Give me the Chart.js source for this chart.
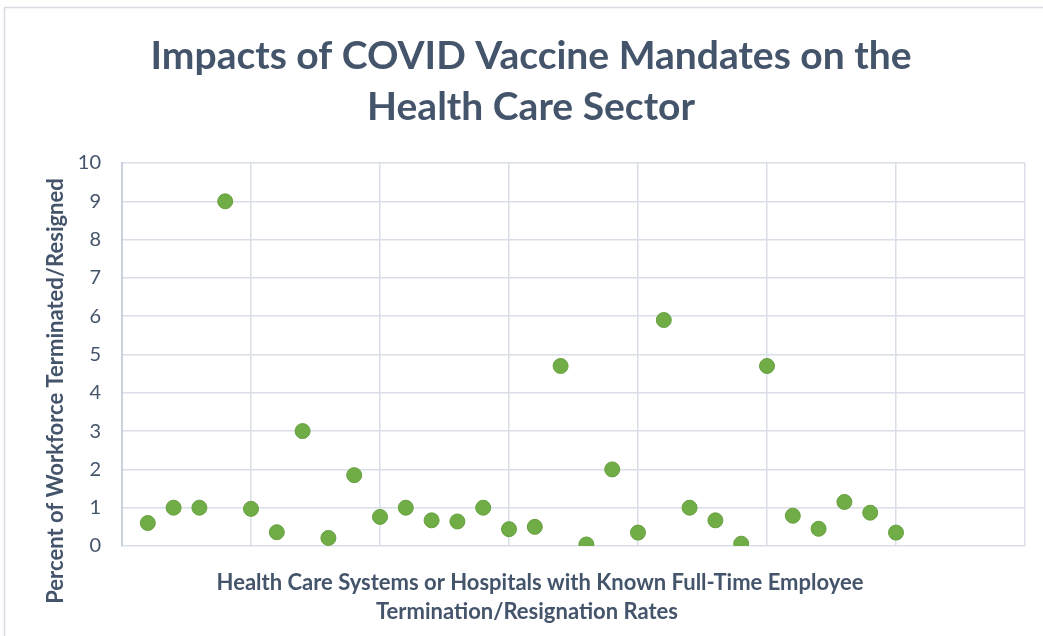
<!DOCTYPE html>
<html>
<head>
<meta charset="utf-8">
<script src="https://cdn.jsdelivr.net/npm/chart.js@4/dist/chart.umd.min.js"></script>
<style>
  html, body { margin: 0; padding: 0; background: #ffffff; }
  #wrap { width: 1043px; height: 636px; position: relative; }
</style>
</head>
<body>
<div id="wrap"><canvas id="c" width="1043" height="636"></canvas></div>
<script>
// ---- Data ----
const chartTitle = ['Impacts of COVID Vaccine Mandates on the', 'Health Care Sector'];
const xAxisTitle = ['Health Care Systems or Hospitals with Known Full-Time Employee', 'Termination/Resignation Rates'];
const yAxisTitle = 'Percent of Workforce Terminated/Resigned';
const systemIndex = [1, 2, 3, 4, 5, 6, 7, 8, 9, 10, 11, 12, 13, 14, 15, 16, 17, 18, 19, 20, 21, 22, 23, 24, 25, 26, 27, 28, 29, 30];
const percentTerminated = [0.6, 1.0, 1.0, 9.0, 0.97, 0.36, 3.0, 0.21, 1.85, 0.76, 1.0, 0.67, 0.64, 1.0, 0.44, 0.5, 4.7, 0.04, 2.0, 0.35, 5.9, 1.0, 0.67, 0.06, 4.7, 0.79, 0.45, 1.15, 0.87, 0.35];
const yTicks = [0, 1, 2, 3, 4, 5, 6, 7, 8, 9, 10];

const points = systemIndex.map((x, i) => ({ x: x, y: percentTerminated[i] }));

const textColor = '#44546A';
const gridColor = '#D9DEE8';

const titlesPlugin = {
  id: 'customTitles',
  beforeDraw(chart) {
    const ctx = chart.ctx;
    ctx.save();
    ctx.fillStyle = '#ffffff';
    ctx.fillRect(0, 0, chart.width, chart.height);
    // outer frame (left + top)
    ctx.strokeStyle = '#D9DCE3';
    ctx.lineWidth = 1.5;
    ctx.beginPath();
    ctx.moveTo(4.5, 636);
    ctx.lineTo(4.5, 7.5);
    ctx.lineTo(1043, 7.5);
    ctx.stroke();
    ctx.restore();
  },
  afterDraw(chart) {
    const ctx = chart.ctx;
    ctx.save();
    ctx.fillStyle = textColor;
    ctx.textAlign = 'center';
    ctx.textBaseline = 'middle';
    // main title
    ctx.font = 'bold 39px Lato';
    ctx.fillText(chartTitle[0], 531, 56);
    ctx.fillText(chartTitle[1], 531, 107);
    // x axis title
    ctx.font = 'bold 22px Lato';
    ctx.fillText(xAxisTitle[0], 540, 583);
    ctx.fillText(xAxisTitle[1], 527, 612);
    // y axis title
    ctx.translate(56, 391);
    ctx.rotate(-Math.PI / 2);
    ctx.font = 'bold 22px Lato';
    ctx.fillText(yAxisTitle, 0, 0);
    ctx.restore();
  }
};

new Chart(document.getElementById('c'), {
  type: 'scatter',
  data: {
    datasets: [{
      data: points,
      backgroundColor: '#70AD47',
      borderColor: '#66A03F',
      borderWidth: 1,
      pointRadius: 7.5,
      pointHoverRadius: 7.5
    }]
  },
  options: {
    responsive: false,
    devicePixelRatio: 1,
    animation: false,
    layout: { padding: { left: 0, right: 18, top: 163, bottom: 90 } },
    plugins: {
      legend: { display: false },
      title: { display: false },
      tooltip: { enabled: false }
    },
    scales: {
      x: {
        type: 'linear',
        min: 0,
        max: 35,
        ticks: { display: false, stepSize: 5 },
        grid: { color: gridColor, lineWidth: 1.5, drawTicks: false },
        border: { display: false },
        afterFit(scale) { scale.height = 0; }
      },
      y: {
        type: 'linear',
        min: 0,
        max: 10,
        afterBuildTicks(scale) { scale.ticks = yTicks.map(v => ({ value: v })); },
        ticks: {
          color: textColor,
          font: { family: 'Lato', size: 20 },
          padding: 21
        },
        grid: { color: gridColor, lineWidth: 1.5, drawTicks: false },
        border: { display: true, color: '#C9D0DE', width: 2 },
        afterFit(scale) { scale.width = 122; }
      }
    }
  },
  plugins: [titlesPlugin]
});
</script>
</body>
</html>
